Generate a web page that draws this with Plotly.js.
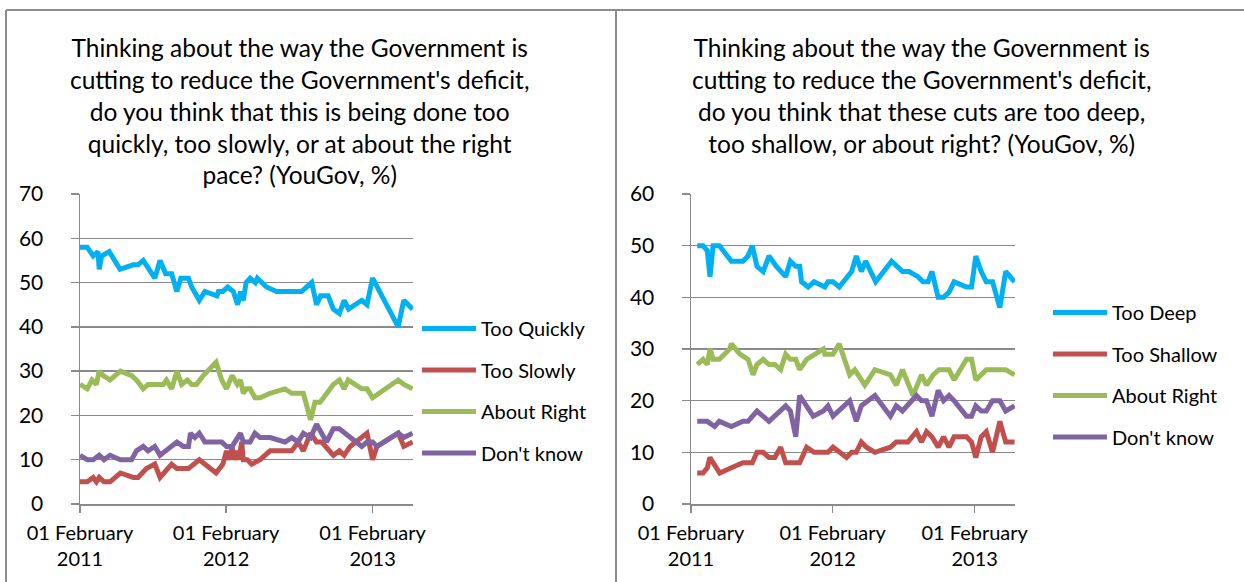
<!DOCTYPE html>
<html>
<head>
<meta charset="utf-8">
<script src="https://cdn.plot.ly/plotly-3.0.1.min.js"></script>
<style>
  html, body { margin: 0; padding: 0; background: #ffffff; }
  #chart { width: 1244px; height: 582px; }
</style>
</head>
<body>
<div id="chart"></div>
<script>
// ---------- Left chart: pace of cuts ----------
const leftTitle = "Thinking about the way the Government is<br>cutting to reduce the Government's deficit,<br>do you think that this is being done too<br>quickly, too slowly, or at about the right<br>pace? (YouGov, %)";
const leftNames = ["Too Quickly", "Too Slowly", "About Right", "Don't know"];

const quicklyDates = ["2011-02-01","2011-02-19","2011-03-06","2011-03-18","2011-03-21","2011-03-27","2011-04-15","2011-05-12","2011-06-14","2011-06-26","2011-07-09","2011-08-07","2011-08-20","2011-09-03","2011-09-18","2011-10-01","2011-10-11","2011-10-30","2011-11-07","2011-11-26","2011-12-10","2012-01-09","2012-01-13","2012-01-24","2012-02-05","2012-02-19","2012-03-01","2012-03-08","2012-03-15","2012-03-22","2012-04-01","2012-04-14","2012-04-19","2012-05-12","2012-06-06","2012-07-01","2012-08-08","2012-09-02","2012-09-14","2012-09-24","2012-10-13","2012-10-26","2012-11-10","2012-11-22","2012-12-03","2013-01-05","2013-01-18","2013-02-01","2013-04-06","2013-04-20","2013-05-12"];
const quicklyVals  = [58,58,56,57,53,56,57,53,54,54,55,51,55,52,52,48,51,51,49,46,48,47,48,48,49,48,45,48,46,50,51,50,51,49,48,48,48,50,45,47,47,44,43,46,44,46,45,51,40,46,44];

const slowlyDates = ["2011-02-01","2011-02-19","2011-03-06","2011-03-14","2011-03-21","2011-04-02","2011-04-17","2011-05-13","2011-06-14","2011-06-26","2011-07-17","2011-08-07","2011-08-20","2011-09-18","2011-10-01","2011-10-30","2011-11-26","2012-01-07","2012-01-24","2012-02-02","2012-02-09","2012-02-16","2012-02-22","2012-02-29","2012-03-04","2012-03-11","2012-03-15","2012-03-25","2012-04-05","2012-04-26","2012-05-21","2012-06-27","2012-07-14","2012-07-30","2012-08-12","2012-08-30","2012-09-14","2012-09-27","2012-10-26","2012-11-10","2012-11-22","2012-12-07","2013-01-18","2013-02-01","2013-02-12","2013-04-06","2013-04-20","2013-05-12"];
const slowlyVals  = [5,5,6,5,6,5,5,7,6,6,8,9,6,9,8,8,10,7,9,12,10,13,10,12,10,14,10,10,9,10,12,12,12,14,12,16,14,14,11,12,11,13,16,10,13,16,13,14];

const rightPaceDates = ["2011-02-01","2011-02-19","2011-03-03","2011-03-14","2011-03-21","2011-03-31","2011-04-17","2011-05-13","2011-06-10","2011-06-22","2011-07-09","2011-07-21","2011-08-28","2011-09-05","2011-09-18","2011-10-01","2011-10-13","2011-10-27","2011-11-07","2011-11-19","2011-12-06","2012-01-07","2012-01-21","2012-02-02","2012-02-16","2012-02-29","2012-03-08","2012-03-15","2012-03-23","2012-04-01","2012-04-13","2012-04-26","2012-05-21","2012-06-27","2012-07-14","2012-08-12","2012-08-30","2012-09-10","2012-09-23","2012-10-26","2012-11-10","2012-11-22","2012-12-02","2013-01-05","2013-01-18","2013-02-01","2013-04-06","2013-04-20","2013-05-12"];
const rightPaceVals  = [27,26,28,27,30,29,28,30,29,28,26,27,27,28,26,30,27,28,27,27,29,32,28,26,29,27,28,25,26,26,24,24,25,26,25,25,19,23,23,27,28,26,28,26,26,24,28,27,26];

const dkPaceDates = ["2011-02-01","2011-02-19","2011-03-06","2011-03-21","2011-04-02","2011-04-17","2011-05-13","2011-06-10","2011-06-22","2011-07-09","2011-07-21","2011-08-07","2011-08-20","2011-10-01","2011-10-17","2011-10-30","2011-11-04","2011-11-15","2011-11-26","2011-12-10","2012-01-21","2012-02-02","2012-02-16","2012-02-29","2012-03-08","2012-03-15","2012-04-01","2012-04-13","2012-04-26","2012-05-21","2012-06-27","2012-07-14","2012-07-30","2012-08-12","2012-08-30","2012-09-14","2012-10-09","2012-10-26","2012-11-10","2013-01-05","2013-01-18","2013-02-01","2013-02-12","2013-04-06","2013-04-20","2013-05-12"];
const dkPaceVals  = [11,10,10,11,10,11,10,10,12,13,12,13,11,14,13,13,16,15,16,14,14,13,13,15,16,14,14,16,15,15,14,15,14,16,15,18,14,17,17,13,14,14,13,16,15,16];

// ---------- Right chart: depth of cuts ----------
const rightTitle = "Thinking about the way the Government is<br>cutting to reduce the Government's deficit,<br>do you think that these cuts are too deep,<br>too shallow, or about right? (YouGov, %)";
const rightNames = ["Too Deep", "Too Shallow", "About Right", "Don't know"];

const deepDates = ["2011-02-17","2011-03-04","2011-03-15","2011-03-22","2011-03-30","2011-04-15","2011-05-16","2011-06-15","2011-06-28","2011-07-09","2011-07-21","2011-08-06","2011-08-21","2011-09-09","2011-10-03","2011-10-15","2011-10-29","2011-11-08","2011-11-13","2011-11-30","2011-12-15","2012-01-12","2012-01-20","2012-02-02","2012-02-18","2012-03-08","2012-03-21","2012-04-02","2012-04-15","2012-04-26","2012-05-22","2012-07-02","2012-07-30","2012-08-16","2012-09-08","2012-09-21","2012-10-04","2012-10-14","2012-10-30","2012-11-13","2012-11-27","2012-12-10","2013-01-11","2013-01-24","2013-02-04","2013-02-18","2013-03-03","2013-03-19","2013-04-07","2013-04-22","2013-05-15"];
const deepVals  = [50,50,49,44,50,50,47,47,48,50,46,45,48,46,44,47,46,46,43,42,43,42,43,43,42,44,45,48,45,47,43,47,45,45,44,43,43,45,40,40,41,43,42,42,48,45,43,43,38,45,43];

const shallowDates = ["2011-02-17","2011-03-04","2011-03-15","2011-03-22","2011-03-30","2011-04-16","2011-05-16","2011-06-15","2011-07-09","2011-07-21","2011-08-06","2011-08-21","2011-09-05","2011-09-20","2011-10-03","2011-10-15","2011-11-08","2011-11-26","2011-12-15","2012-01-20","2012-02-02","2012-03-08","2012-03-21","2012-04-02","2012-04-15","2012-04-28","2012-05-20","2012-06-29","2012-07-14","2012-08-13","2012-09-04","2012-09-17","2012-09-30","2012-10-14","2012-10-30","2012-11-13","2012-11-27","2012-12-10","2013-01-11","2013-01-24","2013-02-04","2013-02-18","2013-03-03","2013-03-19","2013-04-07","2013-04-22","2013-05-15"];
const shallowVals  = [6,6,7,9,8,6,7,8,8,10,10,9,9,11,8,8,8,11,10,10,11,9,10,10,12,11,10,11,12,12,14,12,14,13,11,13,11,13,13,12,9,13,14,10,16,12,12];

const rightDepthDates = ["2011-02-17","2011-03-04","2011-03-15","2011-03-22","2011-03-30","2011-04-15","2011-05-12","2011-05-16","2011-06-07","2011-06-28","2011-07-11","2011-07-21","2011-08-06","2011-08-21","2011-09-05","2011-09-20","2011-10-03","2011-10-15","2011-10-29","2011-11-08","2011-11-26","2011-12-15","2012-01-08","2012-01-12","2012-02-02","2012-02-18","2012-03-16","2012-03-29","2012-04-24","2012-05-20","2012-06-29","2012-07-14","2012-07-30","2012-08-26","2012-09-17","2012-09-30","2012-10-17","2012-11-01","2012-11-27","2012-12-10","2013-01-11","2013-01-24","2013-02-04","2013-03-03","2013-04-22","2013-05-15"];
const rightDepthVals  = [27,28,27,30,28,28,30,31,29,28,25,27,28,27,27,26,29,28,28,26,28,29,30,29,29,31,25,26,23,26,25,23,26,21,25,23,25,26,26,24,28,28,24,26,26,25];

const dkDepthDates = ["2011-02-17","2011-03-15","2011-04-03","2011-04-15","2011-05-16","2011-06-15","2011-06-28","2011-07-21","2011-08-21","2011-10-03","2011-10-15","2011-10-29","2011-11-08","2011-11-26","2011-12-13","2012-01-08","2012-01-20","2012-02-02","2012-03-16","2012-04-02","2012-04-15","2012-05-20","2012-06-29","2012-07-14","2012-07-30","2012-09-04","2012-09-17","2012-09-30","2012-10-14","2012-10-30","2012-11-13","2012-11-27","2012-12-10","2013-01-11","2013-01-24","2013-02-04","2013-02-18","2013-03-03","2013-03-19","2013-04-07","2013-04-22","2013-05-15"];
const dkDepthVals  = [16,16,15,16,15,16,16,18,16,19,18,13,21,19,17,18,19,17,20,16,19,21,17,19,18,21,20,20,17,22,20,21,20,17,17,19,18,18,20,20,18,19];

const seriesColors = ["#00B0F0", "#C0504D", "#9BBB59", "#8064A2"];
const tickVals = ["2011-02-01", "2012-02-01", "2013-02-01"];
const tickText = ["01 February<br>2011", "01 February<br>2012", "01 February<br>2013"];

const W = 1244, H = 582;
const px = v => v / W;
const py = v => 1 - v / H;
const FONT = "Lato, 'Open Sans', sans-serif";

function mkTrace(x, y, name, color, xa, ya, leg) {
  return {
    type: "scatter", mode: "lines", x: x, y: y, name: name,
    xaxis: xa, yaxis: ya, legend: leg, legendgroup: leg + name,
    line: { color: color, width: 5, shape: "linear" },
    hoverinfo: "x+y+name"
  };
}

const data = [
  mkTrace(quicklyDates, quicklyVals, leftNames[0], seriesColors[0], "x", "y", "legend"),
  mkTrace(slowlyDates, slowlyVals, leftNames[1], seriesColors[1], "x", "y", "legend"),
  mkTrace(rightPaceDates, rightPaceVals, leftNames[2], seriesColors[2], "x", "y", "legend"),
  mkTrace(dkPaceDates, dkPaceVals, leftNames[3], seriesColors[3], "x", "y", "legend"),
  mkTrace(deepDates, deepVals, rightNames[0], seriesColors[0], "x2", "y2", "legend2"),
  mkTrace(shallowDates, shallowVals, rightNames[1], seriesColors[1], "x2", "y2", "legend2"),
  mkTrace(rightDepthDates, rightDepthVals, rightNames[2], seriesColors[2], "x2", "y2", "legend2"),
  mkTrace(dkDepthDates, dkDepthVals, rightNames[3], seriesColors[3], "x2", "y2", "legend2")
];

const axisGray = "#8A8A8A";
function xAxis(domain, range, anchor) {
  return {
    type: "date", domain: domain, range: range, anchor: anchor,
    tickmode: "array", tickvals: tickVals, ticktext: tickText,
    ticks: "outside", ticklen: 7, tickwidth: 1.5, tickcolor: axisGray,
    showline: true, linecolor: axisGray, linewidth: 1.5,
    showgrid: false, zeroline: false,
    tickfont: { family: FONT, size: 20, color: "#000" },
    ticklabelstandoff: 3, fixedrange: true
  };
}
function yAxis(domain, range, anchor) {
  return {
    domain: domain, range: range, anchor: anchor, dtick: 10, tick0: 0,
    ticks: "outside", ticklen: 8, tickwidth: 1.5, tickcolor: axisGray,
    showline: true, linecolor: axisGray, linewidth: 1.5,
    showgrid: true, gridcolor: axisGray, gridwidth: 1.5,
    zeroline: false,
    tickfont: { family: FONT, size: 21, color: "#000" },
    ticklabelstandoff: 23, fixedrange: true
  };
}

const yDom = [py(504), py(194)];
const layout = {
  width: W, height: H,
  margin: { l: 0, r: 0, t: 0, b: 0 },
  paper_bgcolor: "#ffffff", plot_bgcolor: "#ffffff",
  font: { family: FONT, color: "#000" },
  xaxis: xAxis([px(80), px(413)], ["2011-02-01", "2013-05-13"], "y"),
  yaxis: yAxis(yDom, [0, 70], "x"),
  xaxis2: xAxis([px(691), px(1015)], ["2011-02-01", "2013-05-16"], "y2"),
  yaxis2: yAxis(yDom, [0, 60], "x2"),
  legend: {
    x: px(417), y: py(309), xanchor: "left", yanchor: "top",
    traceorder: "grouped", tracegroupgap: 12.5,
    font: { family: FONT, size: 20, color: "#000" },
    bgcolor: "rgba(0,0,0,0)", itemwidth: 54
  },
  legend2: {
    x: px(1048), y: py(293), xanchor: "left", yanchor: "top",
    traceorder: "grouped", tracegroupgap: 12.5,
    font: { family: FONT, size: 20, color: "#000" },
    bgcolor: "rgba(0,0,0,0)", itemwidth: 54
  },
  annotations: [
    { text: leftTitle, xref: "paper", yref: "paper", x: px(299), y: py(31),
      xanchor: "center", yanchor: "top", showarrow: false, align: "center",
      font: { family: FONT, size: 24.5, color: "#000" } },
    { text: rightTitle, xref: "paper", yref: "paper", x: px(921), y: py(31),
      xanchor: "center", yanchor: "top", showarrow: false, align: "center",
      font: { family: FONT, size: 24.5, color: "#000" } }
  ],
  shapes: [
    { type: "line", xref: "paper", yref: "paper", x0: px(6), x1: px(6), y0: 0, y1: py(10), line: { color: "#8C8C8C", width: 2 } },
    { type: "line", xref: "paper", yref: "paper", x0: px(6), x1: 1, y0: py(10), y1: py(10), line: { color: "#8C8C8C", width: 2 } },
    { type: "line", xref: "paper", yref: "paper", x0: px(616), x1: px(616), y0: 0, y1: py(10), line: { color: "#8C8C8C", width: 2 } }
  ],
  showlegend: true
};

Plotly.newPlot("chart", data, layout, { displayModeBar: false, staticPlot: true });
</script>
</body>
</html>
